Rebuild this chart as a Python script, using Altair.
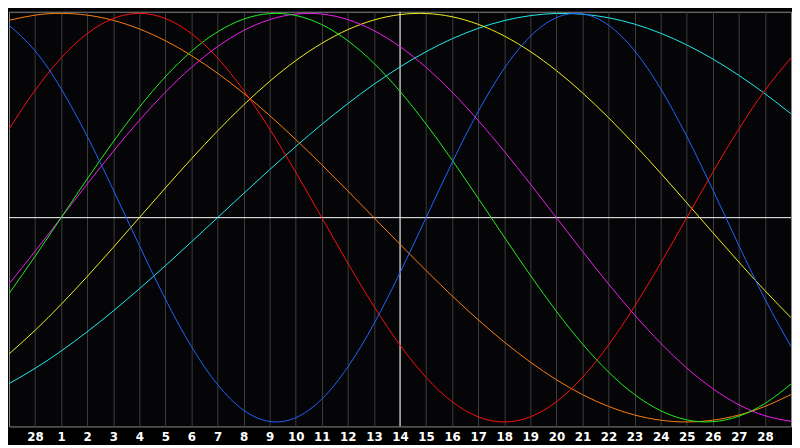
import altair as alt
import pandas as pd

# day index across the chart (0..30); labels shown on indices 1..29
days = list(range(31))
day_labels = ["28", "1", "2", "3", "4", "5", "6", "7", "8", "9", "10", "11", "12", "13", "14",
              "15", "16", "17", "18", "19", "20", "21", "22", "23", "24", "25", "26", "27", "28"]
today_index = 15

# values (-1 .. +1) at each day index
blue = [0.9423, 0.8170, 0.6311, 0.3984, 0.1362, -0.1362, -0.3984, -0.6311, -0.8170, -0.9423,
        -0.9977, -0.9791, -0.8879, -0.7308, -0.5196, -0.2698, 0.0000, 0.2698, 0.5196, 0.7308,
        0.8879, 0.9791, 0.9977, 0.9423, 0.8170, 0.6311, 0.3984, 0.1362, -0.1362, -0.3984, -0.6311]
red = [0.4339, 0.6235, 0.7818, 0.9010, 0.9749, 1.0000, 0.9749, 0.9010, 0.7818, 0.6235,
       0.4339, 0.2225, 0.0000, -0.2225, -0.4339, -0.6235, -0.7818, -0.9010, -0.9749, -1.0000,
       -0.9749, -0.9010, -0.7818, -0.6235, -0.4339, -0.2225, 0.0000, 0.2225, 0.4339, 0.6235, 0.7818]
green = [-0.3717, -0.1893, 0.0000, 0.1893, 0.3717, 0.5406, 0.6900, 0.8146, 0.9096, 0.9718,
         0.9989, 0.9898, 0.9450, 0.8660, 0.7557, 0.6182, 0.4582, 0.2817, 0.0951, -0.0951,
         -0.2817, -0.4582, -0.6182, -0.7557, -0.8660, -0.9450, -0.9898, -0.9989, -0.9718, -0.9096, -0.8146]
magenta = [-0.3247, -0.1646, 0.0000, 0.1646, 0.3247, 0.4759, 0.6142, 0.7357, 0.8372, 0.9158,
           0.9694, 0.9966, 0.9966, 0.9694, 0.9158, 0.8372, 0.7357, 0.6142, 0.4759, 0.3247,
           0.1646, 0.0000, -0.1646, -0.3247, -0.4759, -0.6142, -0.7357, -0.8372, -0.9158, -0.9694, -0.9966]
yellow = [-0.6673, -0.5518, -0.4245, -0.2881, -0.1456, 0.0000, 0.1456, 0.2881, 0.4245, 0.5518,
          0.6673, 0.7686, 0.8535, 0.9204, 0.9675, 0.9940, 0.9993, 0.9834, 0.9464, 0.8893,
          0.8133, 0.7199, 0.6111, 0.4894, 0.3573, 0.2175, 0.0731, -0.0731, -0.2175, -0.3573, -0.4894]
orange = [0.9659, 0.9914, 1.0000, 0.9914, 0.9659, 0.9239, 0.8660, 0.7934, 0.7071, 0.6088,
          0.5000, 0.3827, 0.2588, 0.1305, 0.0000, -0.1305, -0.2588, -0.3827, -0.5000, -0.6088,
          -0.7071, -0.7934, -0.8660, -0.9239, -0.9659, -0.9914, -1.0000, -0.9914, -0.9659, -0.9239, -0.8660]
cyan = [-0.8125, -0.7378, -0.6529, -0.5586, -0.4566, -0.3482, -0.2350, -0.1183, 0.0000, 0.1183,
        0.2350, 0.3482, 0.4566, 0.5586, 0.6529, 0.7378, 0.8125, 0.8757, 0.9267, 0.9646,
        0.9890, 0.9996, 0.9960, 0.9785, 0.9473, 0.9028, 0.8456, 0.7767, 0.6966, 0.6068, 0.5086]

series = {
    "cyan": cyan, "yellow": yellow, "orange": orange, "magenta": magenta,
    "green": green, "red": red, "blue": blue,
}
colors = {
    "cyan": "#22eeee", "yellow": "#f2f222", "orange": "#ff8010", "magenta": "#f020f0",
    "green": "#22f022", "red": "#ff1010", "blue": "#2266ff",
}

rows = []
for name, vals in series.items():
    for d, v in zip(days, vals):
        rows.append({"day": d, "value": v, "series": name})
df = pd.DataFrame(rows)

label_js = "[" + ",".join("'" + s + "'" for s in day_labels) + "]"

xscale = alt.Scale(domain=[0, 30], nice=False, zero=False)
yscale = alt.Scale(domain=[-1.022, 1.008], nice=False, zero=False)

x_axis = alt.Axis(
    values=list(range(1, 30)), grid=True, gridColor="#3e3e3e", gridWidth=1,
    ticks=False, domain=False, title=None,
    labelExpr=label_js + "[datum.value - 1]",
    labelColor="#ffffff", labelFont="DejaVu Sans", labelFontWeight="bold",
    labelFontSize=12, labelPadding=5, labelFlush=False, labelOverlap=False,
    labelBound=False,
)

X = alt.X("day:Q", scale=xscale, axis=x_axis)
Y = alt.Y("value:Q", scale=yscale, axis=None)

today_rule = alt.Chart(pd.DataFrame({"day": [today_index]})).mark_rule(
    color="#ffffff", strokeWidth=1
).encode(x=X)

zero_rule = alt.Chart(pd.DataFrame({"value": [0.0]})).mark_rule(
    color="#ffffff", strokeWidth=1
).encode(y=Y)

lines = alt.Chart(df).mark_line(strokeWidth=1, interpolate="natural", clip=True).encode(
    x=X,
    y=Y,
    color=alt.Color("series:N", scale=alt.Scale(domain=list(colors.keys()),
                                                range=list(colors.values())), legend=None),
    order=alt.Order("day:Q"),
)

chart = alt.layer(today_rule, zero_rule, lines).properties(
    width=792, height=420, background="#000000", padding=0
).configure_axis(
    labelOverlap=False
).configure_view(
    fill="#050508", stroke="#8c8c8c", strokeWidth=1
)

chart.save("out.html", embed_options={"renderer": "svg", "actions": False})
